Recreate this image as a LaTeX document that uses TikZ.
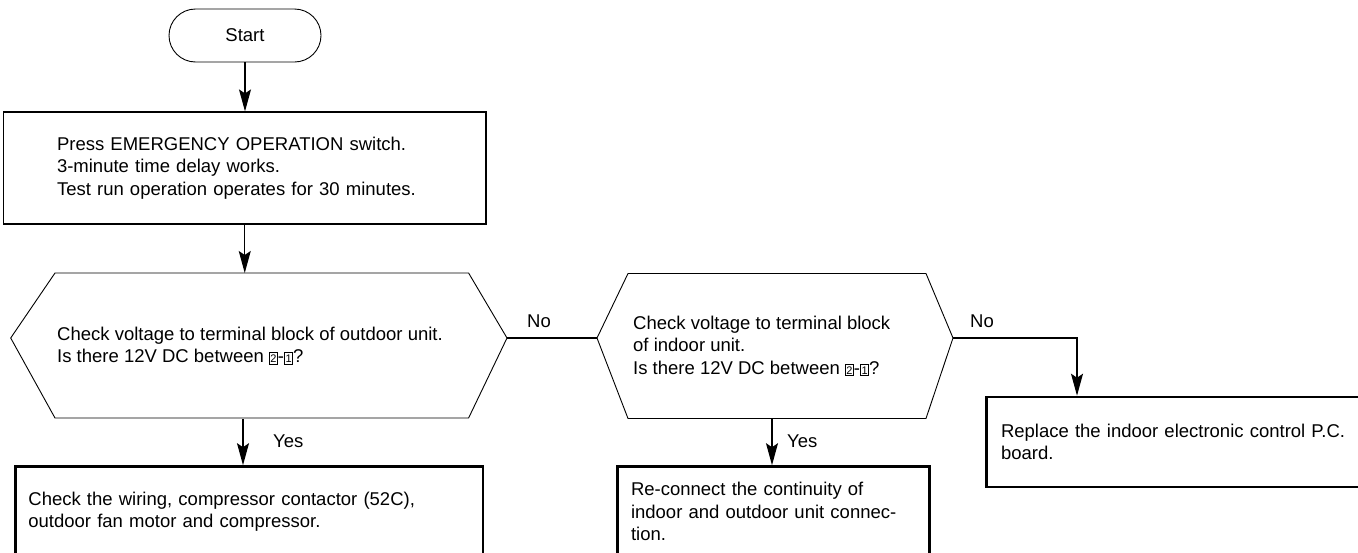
\documentclass[tikz,border=0pt]{standalone}
\usepackage{fontspec}
\setmainfont{Liberation Sans}
\usetikzlibrary{arrows.meta}
\newcommand{\bxnum}[1]{{\setlength{\fboxsep}{0.8pt}\setlength{\fboxrule}{0.6pt}\fbox{\fontsize{11}{11}\selectfont\rule{0pt}{9pt}#1}}}
\begin{document}
\begin{tikzpicture}[x=1pt,y=-1pt,
		every node/.style={font=\fontsize{18.5}{22.5}\selectfont},
		thinline/.style={line width=0.9pt},
		startbox/.style={draw, line width=0.9pt, rounded corners=26.5pt, minimum width=152, minimum height=53},
		plainbox/.style={draw, line width=1.2pt, align=left, inner ysep=0pt},
		fatbox/.style={draw, line width=2.6pt, align=left, inner ysep=0pt, minimum height=90},
		arr/.style={line width=1.2pt, -{Stealth[length=22pt,width=12pt,inset=4pt]}}]
		\useasboundingbox (0,0) rectangle (1358,552);
		\clip (0,0) rectangle (1358,552);
		\begin{scope}
			% start and first step
			\node[startbox] (start) at (245,35.5) {Start};
			\node[plainbox, minimum width=482.5, text width=375.5pt, inner xsep=53.5pt, minimum height=112] (box1) at (244.75,168)
				{Press EMERGENCY OPERATION switch.\\3-minute time delay works.\\Test run operation operates for 30 minutes.};
			
			% decisions
			\coordinate (q1w) at (10.7,338);
			\coordinate (q1e) at (507,338);
			\coordinate (q1n) at (244,273);
			\coordinate (q1s) at (243,419);
			\draw[thinline] (q1w) -- (55,273) -- (468.6,273) -- (q1e) -- (468.6,418) -- (55,418) -- cycle;
			\node[anchor=west, align=left, inner sep=0pt] (q1txt) at (57,345.5)
				{Check voltage to terminal block of outdoor unit.\\Is there 12V DC between \bxnum{2}-\bxnum{1}?};
			
			\coordinate (q2w) at (597,338);
			\coordinate (q2e) at (953,338);
			\coordinate (q2s) at (772,419);
			\coordinate (q2turn) at (1077,338);
			\draw[thinline] (q2w) -- (628,273.5) -- (926,273.5) -- (q2e) -- (926,418.5) -- (628,418.5) -- cycle;
			\node[anchor=west, align=left, inner sep=0pt] (q2txt) at (633,345.5)
				{Check voltage to terminal block\\of indoor unit.\\Is there 12V DC between \bxnum{2}-\bxnum{1}?};
			
			% results
			\node[fatbox, minimum width=467.6, text width=441.6pt, inner xsep=13pt] (box2) at (249.2,511.5)
				{Check the wiring, compressor contactor (52C),\\outdoor fan motor and compressor.};
			\node[fatbox, minimum width=312, text width=285pt, inner xsep=13.5pt] (box3) at (773.5,511.5)
				{Re-connect the continuity of\\indoor and outdoor unit connec-\\tion.};
			\node[fatbox, minimum width=388.5, text width=359.5pt, inner xsep=14.5pt] (box4) at (1180.75,442)
				{Replace the indoor electronic control P.C.\\board.};
			
			% connectors
			\draw[arr] (start) -- (start |- box1.north);
			\draw[arr] (box1) -- (box1 |- q1n);
			\draw[arr] (q1s) -- (q1s |- box2.north);
			\draw[line width=1.2pt] (q1e) -- (q2w);
			\draw[arr] (q2s) -- (q2s |- box3.north);
			\draw[arr] (q2e) -- (q2turn) -- (q2turn |- box4.north);
			
			\foreach \nm/\px/\py/\txt in {lno1/527/327/No, lno2/970/327/No, lyes1/273/447/Yes, lyes2/787/447/Yes} {
				\node[anchor=base west, inner sep=0pt] (\nm) at (\px,\py) {\txt};
			}
		\end{scope}
	\end{tikzpicture}
\end{document}
